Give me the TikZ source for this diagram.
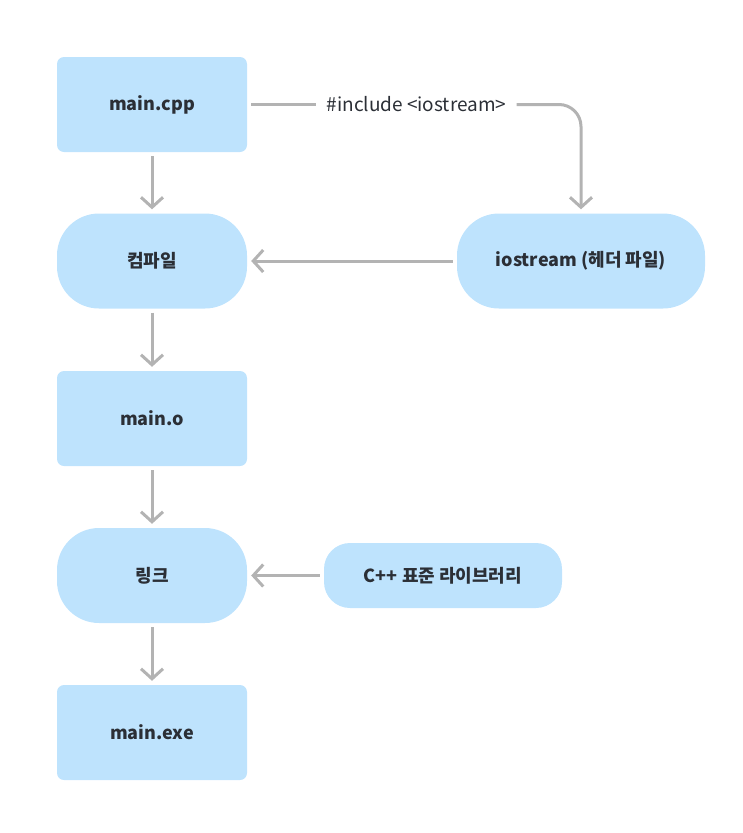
\documentclass[tikz,border=0pt]{standalone}
\usepackage{fontspec}
\setmainfont{Noto Sans CJK KR}
\usetikzlibrary{arrows.meta}
\definecolor{boxfill}{HTML}{BEE3FD}
\definecolor{txt}{HTML}{2B2F36}
\definecolor{edge}{HTML}{B3B3B3}
\tikzset{
  x=1pt, y=-1pt,
  base/.style={fill=boxfill, draw=none, text=txt, font=\fontsize{18}{21}\selectfont\bfseries, anchor=center, inner sep=0pt},
  rectbox/.style={base, minimum width=190pt, minimum height=95pt, rounded corners=7pt},
  pillbox/.style={base, minimum width=190pt, minimum height=95pt, rounded corners=42pt},
  conn/.style={draw=edge, line width=3pt, -{Straight Barb[length=10pt,width=22pt,line width=3pt]}, shorten >=4pt, shorten <=4pt},
  plainline/.style={draw=edge, line width=3pt}
}
\begin{document}
\begin{tikzpicture}
\useasboundingbox (0,0) rectangle (743,833);
\node[rectbox] (cpp) at (152,104.5) {main.cpp};
\node[pillbox] (comp) at (152,261) {컴파일};
\node[rectbox] (obj) at (152,418.5) {main.o};
\node[pillbox] (link) at (152,575.5) {링크};
\node[rectbox] (exe) at (152,732.5) {main.exe};
\node[pillbox, minimum width=248pt] (ios) at (581,261) {iostream (헤더 파일)};
\node[base, minimum width=238pt, minimum height=65pt, rounded corners=26pt] (lib) at (443,575.5) {C++ 표준 라이브러리};
\node[text=txt, font=\fontsize{19}{22}\selectfont, inner sep=0pt] (inc) at (416.5,104.5) {\#include <iostream>};

\draw[conn] (cpp) -- (comp);
\draw[conn] (comp) -- (obj);
\draw[conn] (obj) -- (link);
\draw[conn] (link) -- (exe);
\draw[conn] (ios) -- (comp);
\draw[conn] (lib) -- (link);
\draw[plainline, shorten <=4pt, shorten >=10pt] (cpp.east) -- (inc.west);
\draw[conn, rounded corners=22pt, shorten <=10pt] (inc.east) -| (ios.north);
\end{tikzpicture}
\end{document}
